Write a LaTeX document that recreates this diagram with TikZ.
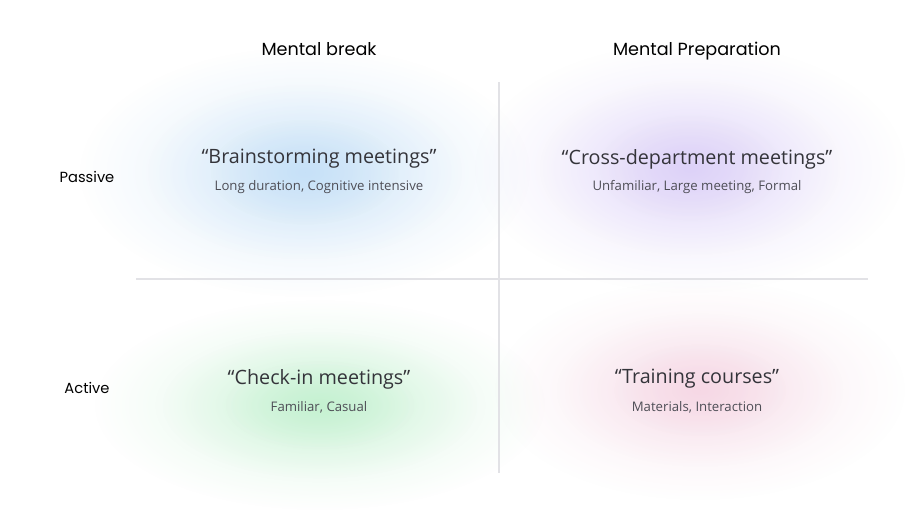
\documentclass[tikz,border=0pt]{standalone}
\usepackage{fontspec}
\setmainfont{Open Sans}
\newfontfamily\headfont{Poppins}
\usepackage{tikz}
\usetikzlibrary{positioning,backgrounds,fadings}
\definecolor{inkdark}{HTML}{34343A}
\definecolor{inkgray}{HTML}{4E4E56}
\definecolor{rulegray}{HTML}{E2E2E6}
\definecolor{glowblue}{HTML}{BFDDF7}
\definecolor{glowplum}{HTML}{D9CCF8}
\definecolor{glowmint}{HTML}{BDF0CB}
\definecolor{glowrose}{HTML}{F5D3E2}
\tikzfading[name=glowfade,inner color=transparent!0,outer color=transparent!100]
\tikzset{
  % rubriker
  colhead/.style={font=\headfont\fontsize{13.2}{16}\selectfont,text=black,inner sep=0pt,anchor=base},
  rowhead/.style={font=\headfont\fontsize{11}{13}\selectfont,text=black,inner sep=0pt,anchor=base},
  % kvadranter
  qtitle/.style={font=\fontsize{14.8}{17}\selectfont,text=inkdark,inner sep=0pt},
  qsub/.style={font=\fontsize{9.9}{12}\selectfont,text=inkgray,inner sep=0pt},
  axisline/.style={draw=rulegray,line width=0.9pt},
  glow/.style={fill=#1,path fading=glowfade,fill opacity=0.5},
}
% mjukt sken: tre ellipser i varandra
\newcommand\softglow[5]{%
  \foreach \k in {1,0.7,0.42}
    \fill[glow=#1] (#2,#3) ellipse ({\k*#4} and {\k*#5});}
\begin{document}
\begin{tikzpicture}[x=0.75pt,y=-0.75pt]
  \useasboundingbox (0,0) rectangle (910,512);
  \begin{scope}[on background layer]
  \fill[white] (0,0) rectangle (910,512);
  \softglow{glowblue}{305}{172}{225}{125}
  \softglow{glowplum}{690}{168}{215}{125}
  \softglow{glowmint}{320}{405}{225}{105}
  \softglow{glowrose}{700}{390}{205}{110}
  \end{scope}
  % axlar
  \coordinate (vtop) at (499,82);
  \coordinate (vbot) at (499,473);
  \coordinate (hleft) at (136,279);
  \coordinate (hright) at (868,279);
  \draw[axisline] (vtop) -- (vbot);
  \draw[axisline] (hleft) -- (hright);
  % rubriker
  \node[colhead] (brk) at (319,55.5) {Mental break};
  \node[colhead] (prep) at (697,55.5) {Mental Preparation};
  \node[rowhead] (pas) at (87,182) {Passive};
  \node[rowhead] (act) at (87,393) {Active};
  % kvadranter
  \node[qtitle] (bs) at (319,159) {“Brainstorming meetings”};
  \node[qsub] (bssub) at (319,187) {Long duration, Cognitive intensive};
  \node[qtitle] (cd) at (697,159) {“Cross-department meetings”};
  \node[qsub] (cdsub) at (697,187) {Unfamiliar, Large meeting, Formal};
  \node[qtitle] (ci) at (319,379) {“Check-in meetings”};
  \node[qsub] (cisub) at (319,407) {Familiar, Casual};
  \node[qtitle] (tc) at (697,379) {“Training courses”};
  \node[qsub] (tcsub) at (697,407) {Materials, Interaction};
\end{tikzpicture}
\end{document}
